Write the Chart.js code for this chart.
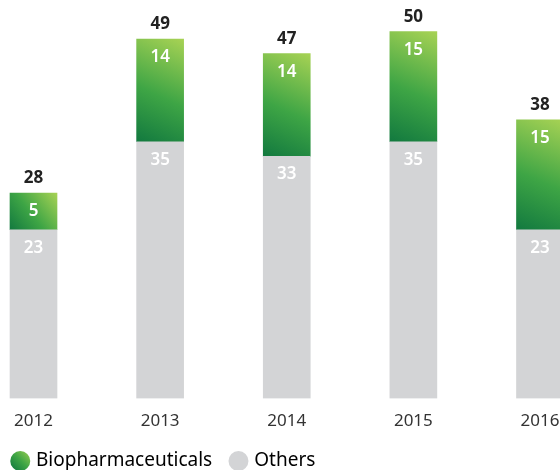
<!DOCTYPE html>
<html>
<head>
<meta charset="utf-8">
<script src="https://cdn.jsdelivr.net/npm/chart.js@4"></script>
<style>
  html,body{margin:0;padding:0;background:#fff;overflow:hidden;}
  #wrap{position:relative;width:560px;height:470px;}
</style>
</head>
<body>
<div id="wrap"><canvas id="c" width="560" height="470"></canvas></div>
<script>
const years = [2012, 2013, 2014, 2015, 2016];
const others = [23, 35, 33, 35, 23];
const biopharma = [5, 14, 14, 15, 15];
const totals = [28, 49, 47, 50, 38];
const seriesNames = ['Biopharmaceuticals', 'Others'];

const FONT = "'Noto Sans', 'Open Sans', sans-serif";
const GREY = '#d3d4d6';
const GREEN_MID = '#3da544';
const BAR_W = 47;

function greenGradient(ctx, x0, y0, x1, y1) {
  const g = ctx.createLinearGradient(x0, y0, x1, y1);
  g.addColorStop(0, '#12793f');
  g.addColorStop(0.45, '#3ea545');
  g.addColorStop(1, '#a7d254');
  return g;
}

function bioFill(context) {
  const chart = context.chart;
  if (!chart.chartArea || context.type !== 'data') return GREEN_MID;
  const i = context.dataIndex;
  const xs = chart.scales.x, ys = chart.scales.y;
  const cx = xs.getPixelForValue(years[i]);
  const base = ys.getPixelForValue(others[i]);
  const top = ys.getPixelForValue(others[i] + biopharma[i]);
  return greenGradient(chart.ctx, cx - BAR_W / 2, base, cx + BAR_W / 2, top);
}

const labelPlugin = {
  id: 'valueLabels',
  afterDatasetsDraw(chart) {
    const ctx = chart.ctx;
    ctx.save();
    ctx.textAlign = 'center';
    ctx.textBaseline = 'middle';
    chart.data.datasets.forEach((ds, di) => {
      const meta = chart.getDatasetMeta(di);
      meta.data.forEach((el, i) => {
        ctx.font = "600 17px " + FONT;
        ctx.fillStyle = '#ffffff';
        ctx.fillText(String(ds.data[i].y), el.x, el.y + 18);
        if (di === 1) {
          ctx.font = "bold 17px " + FONT;
          ctx.fillStyle = '#222222';
          ctx.fillText(String(totals[i]), el.x, el.y - 15);
        }
      });
    });
    ctx.restore();
  }
};

new Chart(document.getElementById('c'), {
  type: 'bar',
  data: {
    datasets: [
      {
        label: seriesNames[1],
        data: years.map((y, i) => ({x: y, y: others[i]})),
        backgroundColor: GREY,
        barThickness: BAR_W
      },
      {
        label: seriesNames[0],
        data: years.map((y, i) => ({x: y, y: biopharma[i]})),
        backgroundColor: bioFill,
        barThickness: BAR_W
      }
    ]
  },
  options: {
    responsive: false,
    animation: false,
    layout: {padding: {top: 17, left: -6, right: 0, bottom: -10.5}},
    scales: {
      x: {
        type: 'linear',
        stacked: true,
        offset: false,
        min: 2011.7354,
        max: 2016.158,
        grid: {display: false, drawTicks: false},
        border: {display: false},
        afterFit(scale) { scale.paddingLeft = 0; scale.paddingRight = 0; scale.height = 33; },
        ticks: {
          stepSize: 1,
          includeBounds: false,
          autoSkip: false,
          maxRotation: 0,
          padding: 12,
          color: '#333333',
          font: {family: FONT, size: 17},
          callback: v => Number.isInteger(v) ? String(v) : ''
        }
      },
      y: {
        stacked: true,
        display: false,
        min: 0,
        max: 52
      }
    },
    plugins: {
      tooltip: {enabled: false},
      legend: {
        position: 'bottom',
        align: 'start',
        reverse: true,
        labels: {
          usePointStyle: true,
          pointStyle: 'circle',
          boxHeight: 14.14,
          boxWidth: 12.5,
          padding: 20,
          color: '#222222',
          font: {family: FONT, size: 19},
          generateLabels(chart) {
            return chart.data.datasets.map((ds, i) => ({
              text: ds.label,
              fillStyle: i === 1 ? greenGradient(chart.ctx, 11, 469, 31, 449) : GREY,
              strokeStyle: 'rgba(0,0,0,0)',
              lineWidth: 0,
              pointStyle: 'circle',
              datasetIndex: i,
              hidden: false
            }));
          }
        }
      }
    }
  },
  plugins: [labelPlugin]
});
</script>
</body>
</html>
